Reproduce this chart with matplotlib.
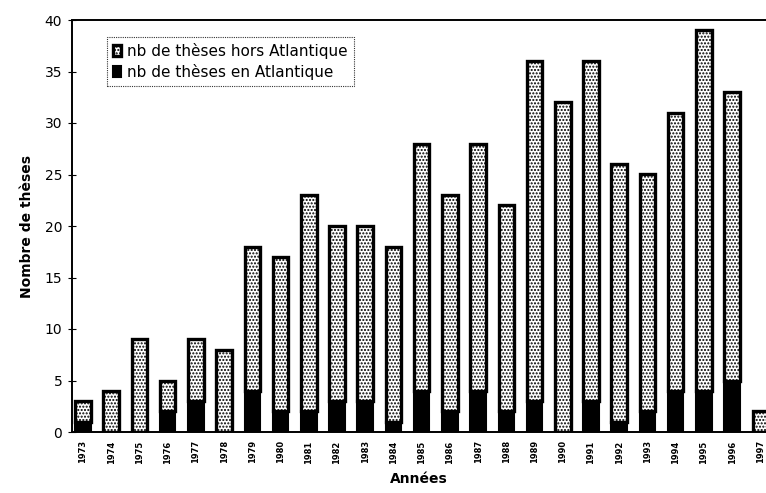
import matplotlib
matplotlib.use("Agg")
import matplotlib.pyplot as plt
import numpy as np

years = [str(y) for y in range(1973, 1998)]
total = [3, 4, 9, 5, 9, 8, 18, 17, 23, 20, 20, 18, 28, 23, 28, 22, 36, 32, 36, 26, 25, 31, 39, 33, 2]
atlantique = [1, 0, 0, 2, 3, 0, 4, 2, 2, 3, 3, 1, 4, 2, 4, 2, 3, 0, 3, 1, 2, 4, 4, 5, 0]
hors_atlantique = [t - a for t, a in zip(total, atlantique)]

plt.rcParams['hatch.linewidth'] = 1.0
fig = plt.figure(figsize=(7.66, 4.93), dpi=100)
ax = fig.add_axes([72 / 766, 1 - 432 / 493, (766 - 72) / 766, (432 - 20) / 493])

x = np.arange(len(years))
w = 0.55
ax.bar(x, atlantique, width=w, color='black', edgecolor='black', linewidth=1.5,
       label='nb de thèses en Atlantique', zorder=2)
ax.bar(x, hors_atlantique, bottom=atlantique, width=w, color='white', edgecolor='black',
       hatch='.....', linewidth=2.4, label='nb de thèses hors Atlantique', zorder=2)

ax.set_xlim(-0.39, 24.2)
ax.set_ylim(0, 40)
ax.set_yticks(range(0, 41, 5))
ax.set_xticks(x)
ax.set_xticklabels(years, rotation=90, fontsize=6, fontweight='bold')
ax.tick_params(axis='x', length=0, pad=6)
ax.tick_params(axis='y', direction='inout', length=6, labelsize=10, pad=4)

for side in ['left', 'bottom', 'top']:
    ax.spines[side].set_linestyle((0, (1, 1)))
    ax.spines[side].set_linewidth(1.4)
ax.spines['right'].set_visible(False)

ax.set_xlabel('Années', fontsize=10, fontweight='bold', labelpad=6)
ax.set_ylabel('Nombre de thèses', fontsize=10, fontweight='bold', labelpad=8)

handles, labels = ax.get_legend_handles_labels()
leg = ax.legend(handles[::-1], labels[::-1], loc='upper left', bbox_to_anchor=(0.05, 0.959),
                borderaxespad=0, fontsize=11, frameon=True, fancybox=False,
                handlelength=0.55, handleheight=0.75, handletextpad=0.4,
                borderpad=0.4, labelspacing=0.3)
leg.get_frame().set_edgecolor('black')
leg.get_frame().set_linestyle((0, (1, 1)))
leg.get_frame().set_linewidth(0.8)

fig.savefig('out.png', dpi=100)
